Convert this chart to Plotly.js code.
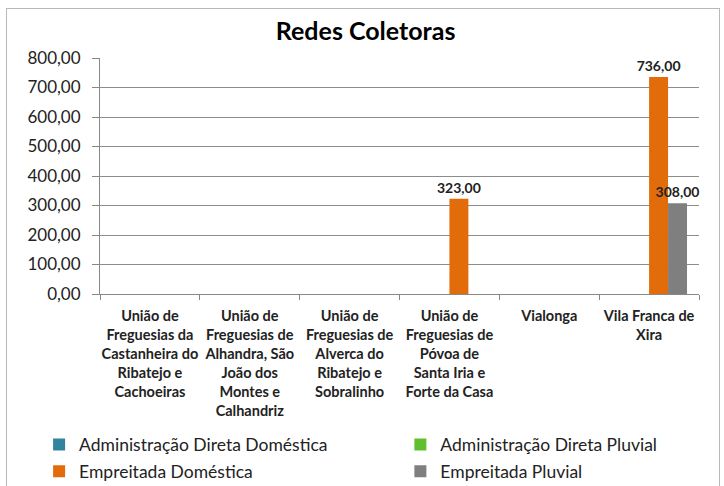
<!DOCTYPE html>
<html>
<head>
<meta charset="utf-8">
<script src="https://cdn.plot.ly/plotly-3.0.1.min.js"></script>
<style>
  body { margin: 0; overflow: hidden; background: #fff; }
  #chart { position: absolute; left: 0; top: 0; width: 724px; height: 486px; }
  #frame { position: absolute; left: 6px; top: 8px; width: 712px; height: 500px;
           border: 1px solid #b8b8b8; pointer-events: none; }
</style>
</head>
<body>
<div id="chart"></div>
<div id="frame"></div>
<script>
const categories = [
  'União de<br>Freguesias da<br>Castanheira do<br>Ribatejo e<br>Cachoeiras',
  'União de<br>Freguesias de<br>Alhandra, São<br>João dos<br>Montes e<br>Calhandriz',
  'União de<br>Freguesias de<br>Alverca do<br>Ribatejo e<br>Sobralinho',
  'União de<br>Freguesias de<br>Póvoa de<br>Santa Iria e<br>Forte da Casa',
  'Vialonga',
  'Vila Franca de<br>Xira'
]
const adminDomestica = [0, 0, 0, 0, 0, 0]
const adminPluvial = [0, 0, 0, 0, 0, 0]
const empreitadaDomestica = [0, 0, 0, 323, 0, 736]
const empreitadaPluvial = [0, 0, 0, 0, 0, 308]

const fmt = v => v > 0 ? v.toFixed(2).replace('.', ',') : ''

const makeTrace = (name, values, color, legend) => ({
  type: 'bar',
  name: name,
  x: categories,
  y: values,
  text: values.map(fmt),
  textposition: 'outside',
  constraintext: 'none',
  cliponaxis: false,
  textfont: { family: 'Lato, sans-serif', size: 14, color: '#222', weight: 'bold' },
  marker: { color: color },
  legend: legend,
  legendgroup: name
})

const data = [
  makeTrace('Administração Direta Doméstica', adminDomestica, '#31849b', 'legend'),
  makeTrace('Administração Direta Pluvial', adminPluvial, '#5fbf2f', 'legend2'),
  makeTrace('Empreitada Doméstica', empreitadaDomestica, '#e36c0a', 'legend'),
  makeTrace('Empreitada Pluvial', empreitadaPluvial, '#7f7f7f', 'legend2')
]

const legendStyle = x => ({
  orientation: 'v',
  xref: 'container', yref: 'container',
  x: x, y: 0.122, xanchor: 'left', yanchor: 'top',
  tracegroupgap: 1,
  itemwidth: 30,
  bgcolor: 'rgba(0,0,0,0)',
  font: { family: 'Lato, sans-serif', size: 17.5, color: '#222' }
})

const layout = {
  width: 724,
  height: 486,
  margin: { l: 100, r: 25, t: 58, b: 192, autoexpand: false },
  separators: ',.',
  font: { family: 'Lato, sans-serif', color: '#000' },
  title: {
    text: '<b>Redes Coletoras</b>',
    font: { family: 'Lato, sans-serif', size: 25, color: '#000' },
    x: 0.505, xanchor: 'center',
    y: 0.935, yanchor: 'middle'
  },
  barmode: 'group',
  bargap: 0.24,
  bargroupgap: 0,
  showlegend: true,
  legend: legendStyle(0.054),
  legend2: legendStyle(0.553),
  xaxis: {
    type: 'category',
    tickson: 'boundaries',
    ticks: 'outside',
    ticklen: 5,
    tickcolor: '#888',
    showline: true,
    linecolor: '#888',
    ticklabelstandoff: 9,
    tickfont: { family: 'Lato, sans-serif', size: 14.5, color: '#222', weight: 'bold' },
    tickangle: 0
  },
  yaxis: {
    range: [0, 800],
    dtick: 100,
    tickformat: '.2f',
    showgrid: true,
    gridcolor: '#8c8c8c',
    zeroline: false,
    showline: true,
    linecolor: '#888',
    ticks: 'outside',
    ticklen: 7,
    tickcolor: '#888',
    ticklabelstandoff: 8,
    tickfont: { family: 'Lato, sans-serif', size: 17, color: '#222' }
  },
  plot_bgcolor: '#fff',
  paper_bgcolor: '#fff'
}

Plotly.newPlot('chart', data, layout, { displayModeBar: false, staticPlot: true })
</script>
</body>
</html>
